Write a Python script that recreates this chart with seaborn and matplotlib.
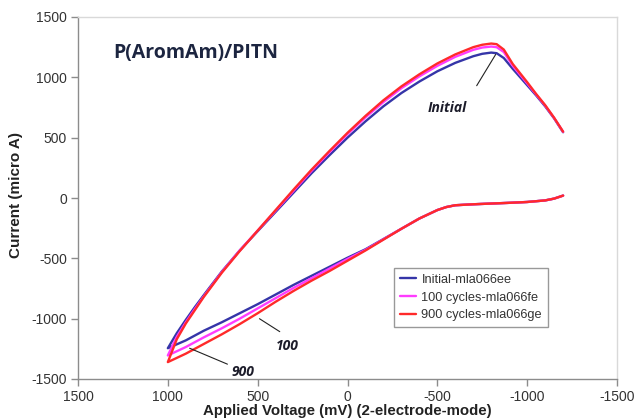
import numpy as np
import pandas as pd
import matplotlib
matplotlib.use("Agg")
import matplotlib.pyplot as plt
import seaborn as sns

# ---------------- data ----------------
series_names = ["Initial-mla066ee", "100 cycles-mla066fe", "900 cycles-mla066ge"]
series_colors = ["#3535a8", "#ff3cff", "#ff2a2a"]

# lower (return) branch: from -1200 mV to +1000 mV
lower_v = [-1200, -1150, -1100, -1000, -900, -800, -700, -600, -550, -500, -400,
           -300, -200, -100, 0, 100, 200, 300, 400, 500, 600, 700, 800, 900, 1000]
lower_initial = [20, -5, -20, -33, -40, -46, -52, -60, -75, -100, -170,
                 -255, -340, -425, -495, -570, -645, -720, -800, -880, -955, -1030, -1100, -1180, -1245]
lower_100 = [20, -5, -20, -33, -40, -46, -52, -60, -75, -100, -170,
             -255, -342, -430, -505, -585, -665, -745, -830, -915, -1000, -1080, -1155, -1235, -1305]
lower_900 = [20, -5, -20, -33, -40, -46, -52, -60, -75, -100, -170,
             -255, -345, -435, -520, -605, -685, -770, -860, -955, -1045, -1130, -1210, -1290, -1360]

# upper (forward) branch: from +1000 mV to -1200 mV
upper_v = [1000, 950, 900, 850, 800, 700, 600, 500, 400, 300, 200, 100, 0,
           -100, -200, -300, -400, -500, -600, -700, -750, -800, -830, -870,
           -920, -1000, -1050, -1100, -1150, -1200]
upper_initial = [-1245, -1120, -1010, -905, -805, -610, -435, -275, -115, 45, 205, 355, 500,
                 635, 760, 870, 965, 1050, 1120, 1175, 1195, 1205, 1200, 1160,
                 1070, 935, 850, 760, 660, 545]
upper_100 = [-1305, -1150, -1030, -920, -815, -615, -435, -270, -105, 60, 225, 380, 530,
             668, 795, 910, 1008, 1095, 1170, 1228, 1247, 1255, 1250, 1210,
             1095, 950, 858, 766, 663, 548]
upper_900 = [-1360, -1170, -1040, -930, -820, -620, -440, -270, -100, 70, 235, 390, 540,
             680, 810, 925, 1025, 1115, 1190, 1250, 1270, 1280, 1275, 1230,
             1110, 960, 862, 770, 665, 550]

x_ticks = [1500, 1000, 500, 0, -500, -1000, -1500]
x_tick_labels = ["1500", "1000", "500", "0", "-500", "-1000", "-1500"]
y_ticks = [1500, 1000, 500, 0, -500, -1000, -1500]
y_tick_labels = ["1500", "1000", "500", "0", "-500", "-1000", "-1500"]

# ---------------- build frame ----------------
rows = []
for name, lo, up in zip(series_names, [lower_initial, lower_100, lower_900],
                        [upper_initial, upper_100, upper_900]):
    order = 0
    for v, c in zip(lower_v, lo):
        rows.append((name, order, v, c)); order += 1
    for v, c in zip(upper_v, up):
        rows.append((name, order, v, c)); order += 1
df = pd.DataFrame(rows, columns=["series", "order", "voltage", "current"])

sns.set_theme(style="white")
plt.rcParams["font.family"] = ["Liberation Sans", "DejaVu Sans"]

fig = plt.figure(figsize=(6.34, 4.18), dpi=100)
ax = fig.add_axes([78/634, 1-379/418, 539/634, 362/418])

sns.lineplot(data=df, x="voltage", y="current", hue="series", units="series",
             estimator=None, sort=False, palette=series_colors, hue_order=series_names,
             linewidth=1.7, ax=ax, legend=True)

ax.set_xlim(1500, -1500)
ax.set_ylim(-1500, 1500)
ax.set_xticks(x_ticks)
ax.set_xticklabels(x_tick_labels)
ax.set_yticks(y_ticks)
ax.set_yticklabels(y_tick_labels)
ax.tick_params(axis="both", direction="out", length=5, width=1, color="#8c8c8c",
               labelsize=10, labelcolor="#333333")
ax.tick_params(axis="x", bottom=True, pad=3)
ax.tick_params(axis="y", left=True, pad=3)
ax.set_xlabel("")
ax.set_ylabel("")

for s in ["left", "bottom"]:
    ax.spines[s].set_color("#8c8c8c")
    ax.spines[s].set_linewidth(1.0)
for s in ["top", "right"]:
    ax.spines[s].set_color("#d9d9d9")
    ax.spines[s].set_linewidth(1.0)

leg = ax.legend(loc="upper left", bbox_to_anchor=((394-78)/539, 1-(268-17)/362),
                frameon=True, fontsize=9.2, handlelength=1.3, handletextpad=0.4,
                borderpad=0.45, labelspacing=0.45, fancybox=False, borderaxespad=0)
leg.get_frame().set_edgecolor("#808080")
leg.get_frame().set_linewidth(1.0)
for t in leg.get_texts():
    t.set_color("#333333")

title_font = ["Open Sans", "DejaVu Sans"]
fig.text(196/634, 1-53/418, "P(AromAm)/PITN", ha="center", va="center",
         fontsize=14, fontweight="bold", color="#1c2540", family=title_font)

lab_color = "#1c1c2a"
lab_kw = dict(ha="center", va="center", fontsize=10, fontweight="bold",
              fontstyle="italic", color=lab_color, family=title_font, clip_on=False)
line_kw = dict(arrowstyle="-", color="#222222", lw=0.8)

ax.annotate("", xy=(-833, 1210), xytext=(-711, 911), arrowprops=line_kw)
ax.text(-555, 745, "Initial", **lab_kw)
ax.annotate("", xy=(503, -988), xytext=(364, -1120), arrowprops=line_kw)
ax.text(336, -1228, "100", **lab_kw)
ax.annotate("", xy=(893, -1236), xytext=(654, -1386), arrowprops=line_kw)
ax.text(581, -1444, "900", **lab_kw)

fig.text(347/634, 1-411.5/418, "Applied Voltage (mV) (2-electrode-mode)", ha="center",
         va="center", fontsize=10.8, fontweight="bold", color="#222222")
fig.text(16/634, 1-195/418, "Current (micro A)", ha="center", va="center",
         rotation=90, fontsize=11, fontweight="bold", color="#222222")

fig.savefig("out.png", dpi=100)
